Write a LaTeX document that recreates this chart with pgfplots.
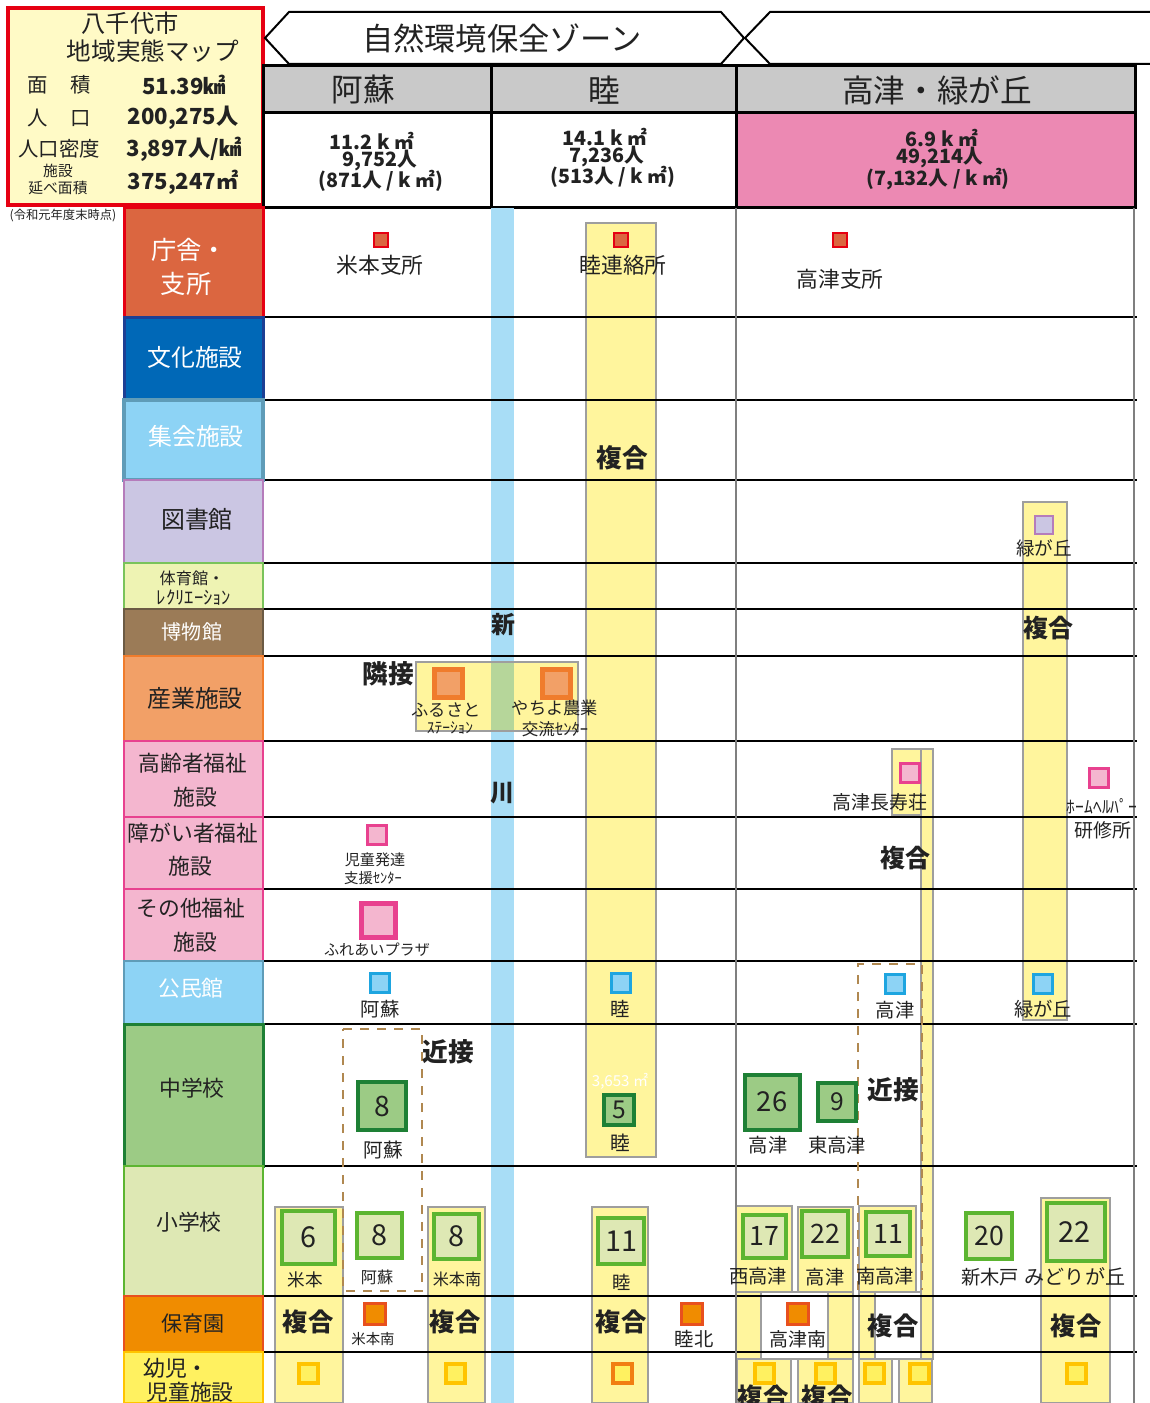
\documentclass[border=0pt]{standalone}
\usepackage{fontspec}
\setmainfont{Noto Sans CJK JP}
\usepackage{pgfplots}
\pgfplotsset{compat=1.18}
\definecolor{tlfill}{HTML}{FFFAC6}
\definecolor{red1}{HTML}{E60012}
\definecolor{hgray}{HTML}{C9C9C9}
\definecolor{statpink}{HTML}{EC89B3}
\definecolor{yfill}{HTML}{FFF59D}
\definecolor{bgray}{HTML}{9E9E9E}
\definecolor{vgray}{HTML}{7F7F7F}
\definecolor{river}{HTML}{A8DDF6}
\definecolor{rgreen}{HTML}{B6D69A}
\definecolor{dbrown}{HTML}{B08850}
\definecolor{c1f}{HTML}{DB6640}
\definecolor{c2f}{HTML}{0068B7}\definecolor{c2d}{HTML}{1D3F94}
\definecolor{c3f}{HTML}{8DD3F5}\definecolor{c3d}{HTML}{5F9CB8}
\definecolor{c4f}{HTML}{CBC6E3}\definecolor{c4d}{HTML}{B57CBB}
\definecolor{c5f}{HTML}{EEF3B3}\definecolor{c5d}{HTML}{7AC35B}
\definecolor{c6f}{HTML}{9B7B57}\definecolor{c6d}{HTML}{6B5A44}
\definecolor{c7f}{HTML}{F2A067}\definecolor{c7d}{HTML}{F07C2C}
\definecolor{c8f}{HTML}{F4B6CF}\definecolor{c8d}{HTML}{E8418F}
\definecolor{c9f}{HTML}{9CCB85}\definecolor{c9d}{HTML}{1E8035}
\definecolor{c10f}{HTML}{DEE8B4}\definecolor{c10d}{HTML}{5CB531}
\definecolor{c11f}{HTML}{F08C00}\definecolor{c11d}{HTML}{E8501E}
\definecolor{c12f}{HTML}{FFF160}\definecolor{c12d}{HTML}{FFC400}
\definecolor{bluesq}{HTML}{1EA5E0}
\definecolor{txt}{HTML}{222222}
\newcommand{\fs}[1]{\fontsize{#1}{#1}\selectfont}
\newcommand{\R}[5]{\addplot[#5] coordinates {(#1,#2) (#3,#2) (#3,#4) (#1,#4)} --cycle;}
\newcommand{\HL}[1]{\addplot[black, line width=0.022cm] coordinates {(263,#1) (1137,#1)};}
\newcommand{\SQ}[6]{\addplot[only marks, mark=square*, mark size=#3cm, mark options={solid, fill=#4, draw=#5, line width=#6cm}] coordinates {(#1,#2)};}
\newcommand{\NUM}[4]{\addplot[only marks, mark=text, text mark={#3}, text mark as node=true, text mark style={font=\fs{#4}, text=txt, inner sep=0pt}] coordinates {(#1,#2)};}
\newcommand{\T}[4][]{\node[inner sep=0pt, align=center, text=txt, #1] at (axis cs:#2,#3) {#4};}
\tikzset{yb/.style={fill=yfill, draw=bgray, line width=0.015cm}}
\begin{document}
\begin{tikzpicture}
\begin{axis}[
  scale only axis, width=11.5cm, height=14.03cm,
  xmin=0, xmax=1150, ymin=0, ymax=1403, y dir=reverse,
  axis lines=none, ticks=none, clip=true,
]
% ---- top-left box
\R{8}{8}{263}{205}{fill=tlfill, draw=red1, line width=0.035cm}
% ---- banners
\addplot[fill=white, draw=black, line width=0.02cm] coordinates {(265,38) (289,12) (721,12) (744,38) (721,64) (289,64)} --cycle;
\addplot[draw=black, line width=0.02cm] coordinates {(1150,12) (770,12) (745,38) (770,64) (1150,64)};
% ---- header cells
\R{263}{66}{491}{113}{fill=hgray, draw=black, line width=0.03cm}
\R{491}{66}{736}{113}{fill=hgray, draw=black, line width=0.03cm}
\R{736}{66}{1135}{113}{fill=hgray, draw=black, line width=0.03cm}
\R{263}{113}{491}{208}{fill=white, draw=black, line width=0.03cm}
\R{491}{113}{736}{208}{fill=white, draw=black, line width=0.03cm}
\R{736}{113}{1135}{208}{fill=statpink, draw=black, line width=0.03cm}
% ---- yellow bands
\R{586}{223}{656}{1157}{yb}
\R{1023}{502}{1067}{1020}{yb}
\R{892}{749}{933}{815}{yb}
\R{921}{749}{933}{1359}{yb}
\R{275}{1207}{343}{1403}{yb}
\R{428}{1207}{485}{1403}{yb}
\R{592}{1207}{648}{1403}{yb}
\R{736}{1206}{792}{1292}{yb}
\R{736}{1292}{761}{1359}{yb}
\R{737}{1359}{791}{1403}{yb}
\R{798}{1207}{853}{1292}{yb}
\R{828}{1292}{853}{1359}{yb}
\R{798}{1359}{853}{1403}{yb}
\R{859}{1206}{916}{1292}{yb}
\R{859}{1292}{875}{1359}{yb}
\R{859}{1359}{892}{1403}{yb}
\R{899}{1359}{932}{1403}{yb}
\R{1041}{1198}{1110}{1403}{yb}
\R{761}{1292}{828}{1359}{fill=white, draw=bgray, line width=0.015cm}
\R{875}{1292}{921}{1359}{fill=white, draw=bgray, line width=0.015cm}
% ---- river
\R{491}{208}{514}{1403}{fill=river, draw=none}
\R{416}{662}{578}{731}{fill=yfill, draw=none}
\R{491}{662}{514}{731}{fill=rgreen, draw=none}
\R{416}{662}{578}{731}{draw=bgray, line width=0.015cm}
% ---- row lines
\HL{317}\HL{400}\HL{480}\HL{563}\HL{609}\HL{656}\HL{741}\HL{817}\HL{889}\HL{961}\HL{1024}\HL{1166}\HL{1296}\HL{1352}
\addplot[vgray, line width=0.015cm] coordinates {(736,208) (736,1403)};
\addplot[vgray, line width=0.015cm] coordinates {(1134,208) (1134,1403)};
% ---- left label cells
\R{124}{208}{263}{317}{fill=c1f, draw=red1, line width=0.03cm}
\R{124}{317}{263}{400}{fill=c2f, draw=c2d, line width=0.03cm}
\R{124}{400}{263}{480}{fill=c3f, draw=c3d, line width=0.045cm}
\R{124}{480}{263}{563}{fill=c4f, draw=c4d, line width=0.025cm}
\R{124}{563}{263}{609}{fill=c5f, draw=c5d, line width=0.025cm}
\R{124}{609}{263}{656}{fill=c6f, draw=c6d, line width=0.025cm}
\R{124}{656}{263}{741}{fill=c7f, draw=c7d, line width=0.025cm}
\R{124}{741}{263}{817}{fill=c8f, draw=c8d, line width=0.025cm}
\R{124}{817}{263}{889}{fill=c8f, draw=c8d, line width=0.025cm}
\R{124}{889}{263}{961}{fill=c8f, draw=c8d, line width=0.025cm}
\R{124}{961}{263}{1024}{fill=c3f, draw=c3d, line width=0.025cm}
\R{124}{1024}{263}{1166}{fill=c9f, draw=c9d, line width=0.03cm}
\R{124}{1166}{263}{1296}{fill=c10f, draw=c10d, line width=0.025cm}
\R{124}{1296}{263}{1352}{fill=c11f, draw=c11d, line width=0.025cm}
\R{124}{1352}{263}{1403}{fill=c12f, draw=c12d, line width=0.025cm}
% ---- dashed boxes
\addplot[dbrown, dash pattern=on 0.09cm off 0.08cm, line width=0.015cm] coordinates {(343,1029) (422,1029) (422,1291) (343,1291)} --cycle;
\addplot[dbrown, dash pattern=on 0.09cm off 0.08cm, line width=0.015cm] coordinates {(858,1290) (858,964) (922,964) (922,1290)};
% ---- squares
\SQ{381}{240}{0.07}{c1f}{red1}{0.02}
\SQ{621}{240}{0.07}{c1f}{red1}{0.02}
\SQ{840}{240}{0.07}{c1f}{red1}{0.02}
\SQ{1044}{525}{0.09}{c4f}{c4d}{0.02}
\SQ{448}{683}{0.14}{c7f}{c7d}{0.05}
\SQ{556}{683}{0.14}{c7f}{c7d}{0.05}
\SQ{910}{773}{0.095}{c8f}{c8d}{0.03}
\SQ{1099}{778}{0.095}{c8f}{c8d}{0.03}
\SQ{377}{835}{0.095}{c8f}{c8d}{0.03}
\SQ{378}{920}{0.17}{c8f}{c8d}{0.05}
\SQ{380}{983}{0.095}{c3f}{bluesq}{0.03}
\SQ{621}{983}{0.095}{c3f}{bluesq}{0.03}
\SQ{895}{984}{0.095}{c3f}{bluesq}{0.03}
\SQ{1043}{984}{0.095}{c3f}{bluesq}{0.03}
\SQ{382}{1106}{0.24}{c9f}{c9d}{0.04}
\SQ{619}{1110}{0.15}{c9f}{c9d}{0.04}
\SQ{772}{1102}{0.275}{c9f}{c9d}{0.04}
\SQ{837}{1102}{0.19}{c9f}{c9d}{0.04}
\SQ{308}{1237}{0.265}{c10f}{c10d}{0.04}
\SQ{379}{1235}{0.225}{c10f}{c10d}{0.04}
\SQ{456}{1236}{0.225}{c10f}{c10d}{0.04}
\SQ{621}{1241}{0.23}{c10f}{c10d}{0.04}
\SQ{764}{1236}{0.215}{c10f}{c10d}{0.04}
\SQ{825}{1234}{0.23}{c10f}{c10d}{0.04}
\SQ{888}{1234}{0.22}{c10f}{c10d}{0.04}
\SQ{989}{1236}{0.23}{c10f}{c10d}{0.04}
\SQ{1076}{1232}{0.29}{c10f}{c10d}{0.04}
\SQ{375}{1314}{0.105}{c11f}{c11d}{0.03}
\SQ{692}{1314}{0.105}{c11f}{c11d}{0.03}
\SQ{798}{1314}{0.105}{c11f}{c11d}{0.03}
\SQ{308}{1373}{0.095}{c12f}{c12d}{0.04}
\SQ{455}{1373}{0.095}{c12f}{c12d}{0.04}
\SQ{622}{1373}{0.095}{c12f}{c11d!60!c12d}{0.04}
\SQ{764}{1373}{0.095}{c12f}{c12d}{0.04}
\SQ{825}{1373}{0.095}{c12f}{c12d}{0.04}
\SQ{874}{1373}{0.095}{c12f}{c12d}{0.04}
\SQ{919}{1373}{0.095}{c12f}{c12d}{0.04}
\SQ{1076}{1373}{0.095}{c12f}{c12d}{0.04}
% ---- numbers in squares
\NUM{382}{1106}{8}{8}
\NUM{619}{1110}{5}{7}
\NUM{772}{1102}{26}{7.8}
\NUM{837}{1102}{9}{7}
\NUM{308}{1237}{6}{8.2}
\NUM{379}{1235}{8}{8.2}
\NUM{456}{1236}{8}{8.2}
\NUM{621}{1241}{11}{8.2}
\NUM{764}{1236}{17}{7.6}
\NUM{825}{1234}{22}{7.6}
\NUM{888}{1234}{11}{7.6}
\NUM{989}{1236}{20}{7.6}
\NUM{1074}{1232}{22}{8.2}
% ---- top-left texts
\T[font=\fs{6.9}]{130}{23}{八千代市}
\T[font=\fs{7}]{153}{51}{地域実態マップ}
\T[font=\fs{5.8}]{59}{85}{面\hspace{1.1em}積}
\T[font=\fs{6.3}\bfseries]{184}{85}{51.39㎢}
\T[font=\fs{5.8}]{59}{118}{人\hspace{1.1em}口}
\T[font=\fs{6.3}\bfseries]{183}{118}{200,275人}
\T[font=\fs{5.8}]{59}{149}{人口密度}
\T[font=\fs{6.3}\bfseries]{184}{149}{3,897人/㎢}
\T[font=\fs{4.2}]{58}{171}{施設}
\T[font=\fs{4.2}]{58}{188}{延べ面積}
\T[font=\fs{6.3}\bfseries]{183}{182}{375,247㎡}
\T[font=\fs{3.5}]{63}{216}{(令和元年度末時点)}
% ---- header texts
\T[font=\fs{8.9}]{502}{38}{自然環境保全ゾーン}
\T[font=\fs{9}]{363}{90}{阿蘇}
\T[font=\fs{9}]{604}{90}{睦}
\T[font=\fs{9}]{937}{90}{高津・緑が丘}
\T[font=\fs{5.6}\bfseries]{372}{141}{11.2 k ㎡}
\T[font=\fs{5.6}\bfseries]{380}{161}{9,752人}
\T[font=\fs{5.6}\bfseries]{381}{181}{(871人 / k ㎡)}
\T[font=\fs{5.6}\bfseries]{605}{137}{14.1 k ㎡}
\T[font=\fs{5.6}\bfseries]{607}{157}{7,236人}
\T[font=\fs{5.6}\bfseries]{613}{177}{(513人 / k ㎡)}
\T[font=\fs{5.6}\bfseries]{942}{138}{6.9 k ㎡}
\T[font=\fs{5.6}\bfseries]{940}{158}{49,214人}
\T[font=\fs{5.6}\bfseries]{938}{179}{(7,132人 / k ㎡)}
% ---- left label texts
\T[font=\fs{7.2}, text=white]{189}{250}{庁舎・}
\T[font=\fs{7.2}, text=white]{186}{284}{支所}
\T[font=\fs{6.8}, text=white]{195}{357}{文化施設}
\T[font=\fs{6.8}, text=white]{196}{436}{集会施設}
\T[font=\fs{6.8}]{197}{519}{図書館}
\T[font=\fs{4.6}]{192}{578}{体育館・}
\T[font=\fs{5.3}]{194}{598}{ﾚｸﾘｴｰｼｮﾝ}
\T[font=\fs{5.7}, text=white]{192}{632}{博物館}
\T[font=\fs{6.8}]{195}{698}{産業施設}
\T[font=\fs{6.2}]{193}{763}{高齢者福祉}
\T[font=\fs{6.2}]{195}{797}{施設}
\T[font=\fs{6.2}]{193}{833}{障がい者福祉}
\T[font=\fs{6.2}]{190}{866}{施設}
\T[font=\fs{6.2}]{191}{908}{その他福祉}
\T[font=\fs{6.2}]{195}{942}{施設}
\T[font=\fs{6.2}, text=white]{191}{988}{公民館}
\T[font=\fs{6.2}]{192}{1088}{中学校}
\T[font=\fs{6.2}]{189}{1222}{小学校}
\T[font=\fs{6.0}]{193}{1323}{保育園}
\T[font=\fs{6.2}]{176}{1368}{幼児・}
\T[font=\fs{6.2}]{190}{1392}{児童施設}
% ---- body texts
\T[font=\fs{6.2}]{380}{265}{米本支所}
\T[font=\fs{6.2}]{623}{265}{睦連絡所}
\T[font=\fs{6.2}]{840}{279}{高津支所}
\T[font=\fs{7.3}\bfseries]{622}{458}{複合}
\T[font=\fs{5.3}]{1044}{548}{緑が丘}
\T[font=\fs{6.8}\bfseries]{503}{625}{新}
\T[font=\fs{7.1}\bfseries]{1048}{628}{複合}
\T[font=\fs{7.3}\bfseries]{388}{674}{隣接}
\T[font=\fs{4.9}]{446}{710}{ふるさと}
\T[font=\fs{4.4}]{450}{728}{ｽﾃｰｼｮﾝ}
\T[font=\fs{4.9}]{555}{708}{やちよ農業}
\T[font=\fs{4.7}]{555}{729}{交流ｾﾝﾀｰ}
\T[font=\fs{6.8}\bfseries]{502}{793}{川}
\T[font=\fs{5.4}]{880}{802}{高津長寿荘}
\T[font=\fs{5}]{1102}{806}{ﾎｰﾑﾍﾙﾊﾟｰ}
\T[font=\fs{5.4}]{1103}{830}{研修所}
\T[font=\fs{4.3}]{375}{860}{児童発達}
\T[font=\fs{4.1}]{373}{878}{支援ｾﾝﾀｰ}
\T[font=\fs{7.1}\bfseries]{905}{858}{複合}
\T[font=\fs{4.3}]{377}{950}{ふれあいプラザ}
\T[font=\fs{5.5}]{380}{1009}{阿蘇}
\T[font=\fs{5.5}]{620}{1009}{睦}
\T[font=\fs{5.5}]{895}{1010}{高津}
\T[font=\fs{5.5}]{1043}{1009}{緑が丘}
% junior high
\T[font=\fs{7.3}\bfseries]{448}{1052}{近接}
\T[font=\fs{7.3}\bfseries]{893}{1090}{近接}
\T[font=\fs{4.3}, text=white]{620}{1081}{3,653 ㎡}
\T[font=\fs{5.6}]{383}{1150}{阿蘇}
\T[font=\fs{5.6}]{620}{1143}{睦}
\T[font=\fs{5.5}]{768}{1145}{高津}
\T[font=\fs{5.5}]{837}{1145}{東高津}
% elementary
\T[font=\fs{5}]{305}{1280}{米本}
\T[font=\fs{4.6}]{377}{1277}{阿蘇}
\T[font=\fs{4.6}]{457}{1279}{米本南}
\T[font=\fs{5.2}]{622}{1282}{睦}
\T[font=\fs{5.5}]{758}{1276}{西高津}
\T[font=\fs{5.5}]{825}{1277}{高津}
\T[font=\fs{5.5}]{885}{1276}{南高津}
\T[font=\fs{5.5}]{990}{1277}{新木戸}
\T[font=\fs{5.7}]{1075}{1277}{みどりが丘}
% nursery
\T[font=\fs{7.2}\bfseries]{308}{1322}{複合}
\T[font=\fs{7.2}\bfseries]{455}{1322}{複合}
\T[font=\fs{7.2}\bfseries]{621}{1322}{複合}
\T[font=\fs{7.2}\bfseries]{893}{1326}{複合}
\T[font=\fs{7.2}\bfseries]{1076}{1326}{複合}
\T[font=\fs{4.1}]{373}{1339}{米本南}
\T[font=\fs{5.5}]{694}{1339}{睦北}
\T[font=\fs{5.4}]{798}{1339}{高津南}
\T[font=\fs{7.2}\bfseries]{763}{1397}{複合}
\T[font=\fs{7.2}\bfseries]{827}{1397}{複合}
\end{axis}
\pgfresetboundingbox
\path (current axis.south west) rectangle (current axis.north east);
\end{tikzpicture}
\end{document}
